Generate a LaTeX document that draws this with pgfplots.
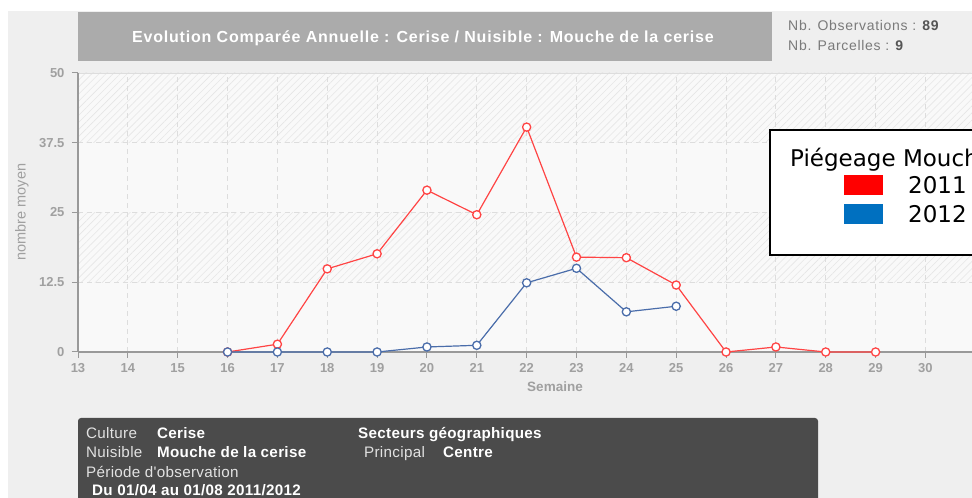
\documentclass[border=0pt]{standalone}
\usepackage{pgfplots}
\pgfplotsset{compat=1.18}
\usepackage{fontspec}
\setmainfont{Liberation Sans}
\newfontfamily\dejavu{DejaVu Sans}
\newfontfamily\titlefont[LetterSpace=5]{Liberation Sans}
\newfontfamily\infofont[LetterSpace=5]{Liberation Sans}
\newfontfamily\boxfont[LetterSpace=2]{Liberation Sans}
\usetikzlibrary{patterns.meta}
\definecolor{bgGray}{HTML}{EFEFEF}
\definecolor{titleGray}{HTML}{ABABAB}
\definecolor{infoGray}{HTML}{7A7A7A}
\definecolor{infoDark}{HTML}{555555}
\definecolor{plotBg}{HTML}{F9F9F9}
\definecolor{hatch}{HTML}{E6E6E6}
\definecolor{gridGray}{HTML}{DDDDDD}
\definecolor{axisGray}{HTML}{999999}
\definecolor{tickGray}{HTML}{A0A0A0}
\definecolor{lineRed}{HTML}{FF4444}
\definecolor{lineBlue}{HTML}{4A6DAA}
\definecolor{legRed}{HTML}{FF0000}
\definecolor{legBlue}{HTML}{0070C0}
\definecolor{infoBox}{HTML}{4B4B4B}
\definecolor{infoLight}{HTML}{E2E2E2}
\pgfplotstableread{
x y
16 0
17 1.4
18 14.9
19 17.6
20 29.0
21 24.6
22 40.3
23 17.0
24 16.9
25 12.0
26 0
27 0.9
28 0
29 0
}\dataA
\pgfplotstableread{
x y
16 0
17 0
18 0
19 0
20 0.9
21 1.2
22 12.4
23 15.0
24 7.2
25 8.2
}\dataB
\begin{document}
\begin{tikzpicture}[x=1pt,y=1pt]
\path[use as bounding box] (0,0) rectangle (972,498);
\clip (0,0) rectangle (972,498);
\fill[white] (0,0) rectangle (972,498);
\fill[bgGray] (8,0) rectangle (972,487);
% title bar
\fill[titleGray] (78,437) rectangle (772,486);
\node[text=white, font=\titlefont\bfseries\fontsize{16}{19}\selectfont] at (423,460) {Evolution Comparée Annuelle : Cerise / Nuisible : Mouche de la cerise};
\node[anchor=base west, text=infoGray, font=\infofont\fontsize{14}{16}\selectfont, inner sep=0pt] at (788,467) {Nb. Observations : \textcolor{infoDark}{\bfseries 89}};
\node[anchor=base west, text=infoGray, font=\infofont\fontsize{14}{16}\selectfont, inner sep=0pt] at (788,447) {Nb. Parcelles : \textcolor{infoDark}{\bfseries 9}};
% plot background bands
\fill[plotBg] (78,146) rectangle (972,425);
\fill[pattern={Lines[angle=45,distance=5pt,line width=0.6pt]}, pattern color=hatch] (78,215.75) rectangle (972,285.5);
\fill[pattern={Lines[angle=45,distance=5pt,line width=0.6pt]}, pattern color=hatch] (78,355.25) rectangle (972,425);
\draw[gridGray, line width=0.8pt] (78,425) -- (972,425);
\begin{axis}[
  at={(78pt,146pt)}, anchor=south west,
  scale only axis, width=894pt, height=279pt,
  xmin=13, xmax=30.934, ymin=0, ymax=50,
  axis x line*=bottom, axis y line*=left,
  axis line style={draw=axisGray, line width=1.2pt, -},
  xtick={13,...,31}, ytick={0,12.5,25,37.5,50},
  yticklabels={0,12.5,25,37.5,50},
  tick align=outside, major tick length=6pt,
  tick style={draw=axisGray, line width=1pt},
  grid=major,
  major grid style={draw=gridGray, dash pattern=on 5pt off 4pt, line width=0.8pt},
  /pgf/number format/assume math mode=true,
  ticklabel style={font=\bfseries\fontsize{13}{15}\selectfont, text=tickGray},
  xticklabel style={yshift=-2pt},
  yticklabel style={xshift=-4pt},
  clip=false,
]
\addplot[lineRed, line width=1.2pt, mark=*, mark size=4.1pt, mark options={fill=white, draw=lineRed, line width=1.3pt}] table[x=x,y=y] {\dataA};
\addplot[lineBlue, line width=1.2pt, mark=*, mark size=4.1pt, mark options={fill=white, draw=lineBlue, line width=1.3pt}] table[x=x,y=y] {\dataB};
\end{axis}
% axis titles
\node[rotate=90, text=tickGray, font=\fontsize{14.5}{16}\selectfont] at (22,286) {nombre moyen};
\node[text=tickGray, font=\bfseries\fontsize{13.5}{15}\selectfont] at (555,111) {Semaine};
% legend
\draw[black, line width=1.3pt, fill=white] (770,243) rectangle (1000,368);
\node[anchor=base west, inner sep=0pt, font=\dejavu\fontsize{23}{26}\selectfont] at (790,331) {Piégeage Mouche de la cerise};
\fill[legRed] (844,303) rectangle (883,323);
\fill[legBlue] (844,274) rectangle (883,294);
\node[anchor=base west, inner sep=0pt, font=\dejavu\fontsize{23}{26}\selectfont] at (908,304) {2011};
\node[anchor=base west, inner sep=0pt, font=\dejavu\fontsize{23}{26}\selectfont] at (908,275) {2012};
% info box
\fill[infoBox, rounded corners=3pt] (78,-6) rectangle (818,80);
\begin{scope}[every node/.style={anchor=base west, inner sep=0pt, font=\boxfont\fontsize{15.2}{17}\selectfont}]
\node[text=infoLight] at (86,59) {Culture};
\node[text=white, font=\boxfont\bfseries\fontsize{15.2}{17}\selectfont] at (157,59) {Cerise};
\node[text=infoLight] at (86,40) {Nuisible};
\node[text=white, font=\boxfont\bfseries\fontsize{15.2}{17}\selectfont] at (157,40) {Mouche de la cerise};
\node[text=infoLight] at (86,20) {Période d'observation};
\node[text=white, font=\boxfont\bfseries\fontsize{15.2}{17}\selectfont] at (92,2.5) {Du 01/04 au 01/08 2011/2012};
\node[text=white, font=\boxfont\bfseries\fontsize{15.2}{17}\selectfont] at (358,59) {Secteurs géographiques};
\node[text=infoLight] at (364,40) {Principal};
\node[text=white, font=\boxfont\bfseries\fontsize{15.2}{17}\selectfont] at (443,40) {Centre};
\end{scope}
\end{tikzpicture}
\end{document}
